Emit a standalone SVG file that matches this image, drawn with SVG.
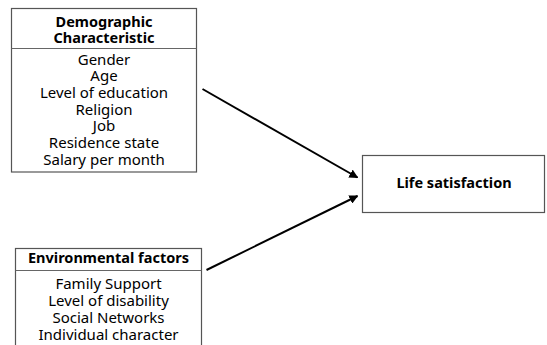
<svg xmlns="http://www.w3.org/2000/svg" width="547" height="345" viewBox="0 0 547 345">
<style>
.box{fill:#fff;stroke:#555;stroke-width:1.2}
.div{stroke:#666;stroke-width:1}
.h{font-family:"Noto Sans","Open Sans",sans-serif;font-weight:bold;font-size:14.5px;fill:#000;text-anchor:middle}
.t{font-family:"Noto Sans","Open Sans",sans-serif;font-size:15px;fill:#000;text-anchor:middle}
.conn{stroke:#000;stroke-width:2;fill:none;marker-end:url(#ah)}
</style>
<defs>
<marker id="ah" viewBox="0 0 10 10" refX="9" refY="5" markerWidth="4.5" markerHeight="4.5" orient="auto" markerUnits="strokeWidth">
<path d="M0,0 L10,5 L0,10 z" fill="#000"/>
</marker>
</defs>
<rect width="547" height="345" fill="#fff"/>
<g id="demographic">
<rect class="box" x="11.5" y="8.5" width="185" height="163.5"/>
<line class="div" x1="11.5" y1="48.5" x2="196.5" y2="48.5"/>
<text class="h" x="104" y="27">Demographic</text>
<text class="h" x="104" y="42.5">Characteristic</text>
<text class="t" x="104" y="64.5">Gender</text>
<text class="t" x="104" y="81.2">Age</text>
<text class="t" x="104" y="97.9">Level of education</text>
<text class="t" x="104" y="114.6">Religion</text>
<text class="t" x="104" y="131.3">Job</text>
<text class="t" x="104" y="148">Residence state</text>
<text class="t" x="104" y="164.7">Salary per month</text>
</g>
<g id="environmental">
<rect class="box" x="15.5" y="248.5" width="186" height="110"/>
<line class="div" x1="15.5" y1="270.5" x2="201.5" y2="270.5"/>
<text class="h" x="108.5" y="262.5">Environmental factors</text>
<text class="t" x="108.5" y="289">Family Support</text>
<text class="t" x="108.5" y="306">Level of disability</text>
<text class="t" x="108.5" y="323">Social Networks</text>
<text class="t" x="108.5" y="340">Individual character</text>
</g>
<g id="life">
<rect class="box" x="362.5" y="155.5" width="182" height="57"/>
<text class="h" x="454" y="188">Life satisfaction</text>
</g>
<g id="connectors">
<line class="conn" x1="202.5" y1="89" x2="357.5" y2="177.5"/>
<line class="conn" x1="206.5" y1="270" x2="357.5" y2="196"/>
</g>
</svg>
